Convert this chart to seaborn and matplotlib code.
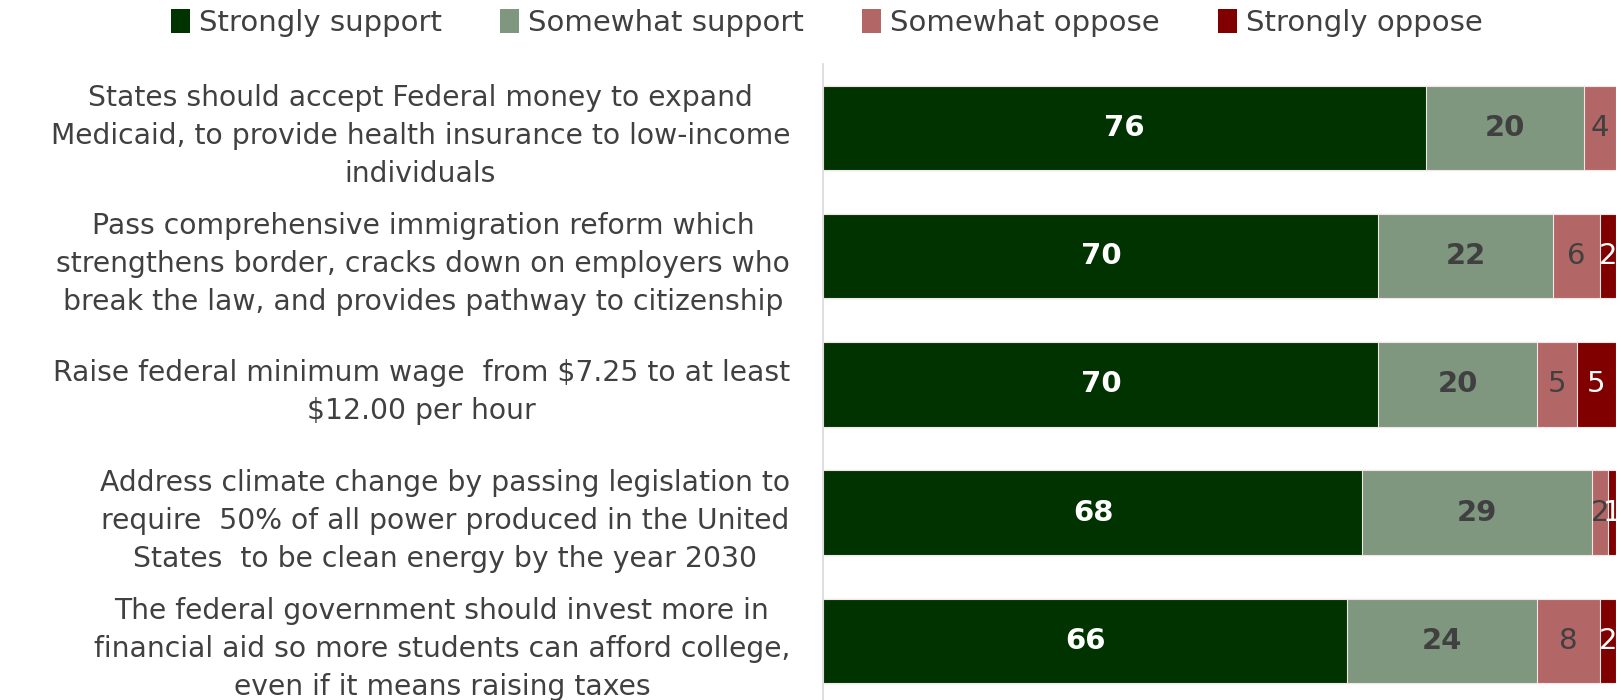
import numpy as np
import pandas as pd
import matplotlib
matplotlib.use("Agg")
import matplotlib.pyplot as plt
import seaborn as sns
from matplotlib.patches import Patch

categories = [
    "States should accept Federal money to expand\nMedicaid, to provide health insurance to low-income\nindividuals",
    "Pass comprehensive immigration reform which\nstrengthens border, cracks down on employers who\nbreak the law, and provides pathway to citizenship",
    "Raise federal minimum wage  from $7.25 to at least\n$12.00 per hour",
    "Address climate change by passing legislation to\nrequire  50% of all power produced in the United\nStates  to be clean energy by the year 2030",
    "The federal government should invest more in\nfinancial aid so more students can afford college,\neven if it means raising taxes",
]
series_names = ["Strongly support", "Somewhat support", "Somewhat oppose", "Strongly oppose"]
strongly_support = [76, 70, 70, 68, 66]
somewhat_support = [20, 22, 20, 29, 24]
somewhat_oppose = [4, 6, 5, 2, 8]
strongly_oppose = [0, 2, 5, 1, 2]

colors = ["#003300", "#7f967f", "#b26666", "#800000"]
label_colors = ["white", "#404040", "#404040", "white"]
label_weights = ["bold", "bold", "normal", "normal"]

sns.set_theme(style="white")
plt.rcParams["font.family"] = ["DejaVu Sans"]

series = [strongly_support, somewhat_support, somewhat_oppose, strongly_oppose]
cum = np.cumsum(np.array(series, dtype=float), axis=0)

fig = plt.figure(figsize=(16.21, 7.0), dpi=100)
ax = fig.add_axes([0.508, 0.0, 0.489, 0.909])

# draw cumulative totals from largest to smallest so they stack
for i in range(len(series) - 1, -1, -1):
    df = pd.DataFrame({"cat": categories, "val": cum[i]})
    sns.barplot(data=df, y="cat", x="val", orient="h", color=colors[i],
                saturation=1, width=0.66, ax=ax, edgecolor="#f2e6e6", linewidth=0.8)

# value labels
for i, vals in enumerate(series):
    for j, v in enumerate(vals):
        if v <= 0:
            continue
        center = cum[i][j] - v / 2.0
        ax.text(center, j, f"{v}", ha="center", va="center",
                color=label_colors[i], fontsize=21, fontweight=label_weights[i])

ax.set_xlim(0, 100)
ax.set_ylim(4.46, -0.5)
ax.set_xlabel("")
ax.set_ylabel("")
ax.set_xticks([])
for s in ["top", "right", "bottom"]:
    ax.spines[s].set_visible(False)
ax.spines["left"].set_color("#d9d9d9")
ax.spines["left"].set_linewidth(1.2)
ax.tick_params(axis="y", length=0, pad=24)
for lab in ax.get_yticklabels():
    lab.set_multialignment("center")
    lab.set_fontsize(20.3)
    lab.set_color("#404040")
    lab.set_linespacing(1.45)

handles = [Patch(facecolor=c, edgecolor="none") for c in colors]
fig.legend(handles, series_names, loc="upper center", bbox_to_anchor=(0.51, 1.025),
           ncol=4, frameon=False, fontsize=21, labelcolor="#404040",
           handlelength=0.65, handleheight=0.9, handletextpad=0.3, columnspacing=2.0)

fig.savefig("out.png", dpi=100)
